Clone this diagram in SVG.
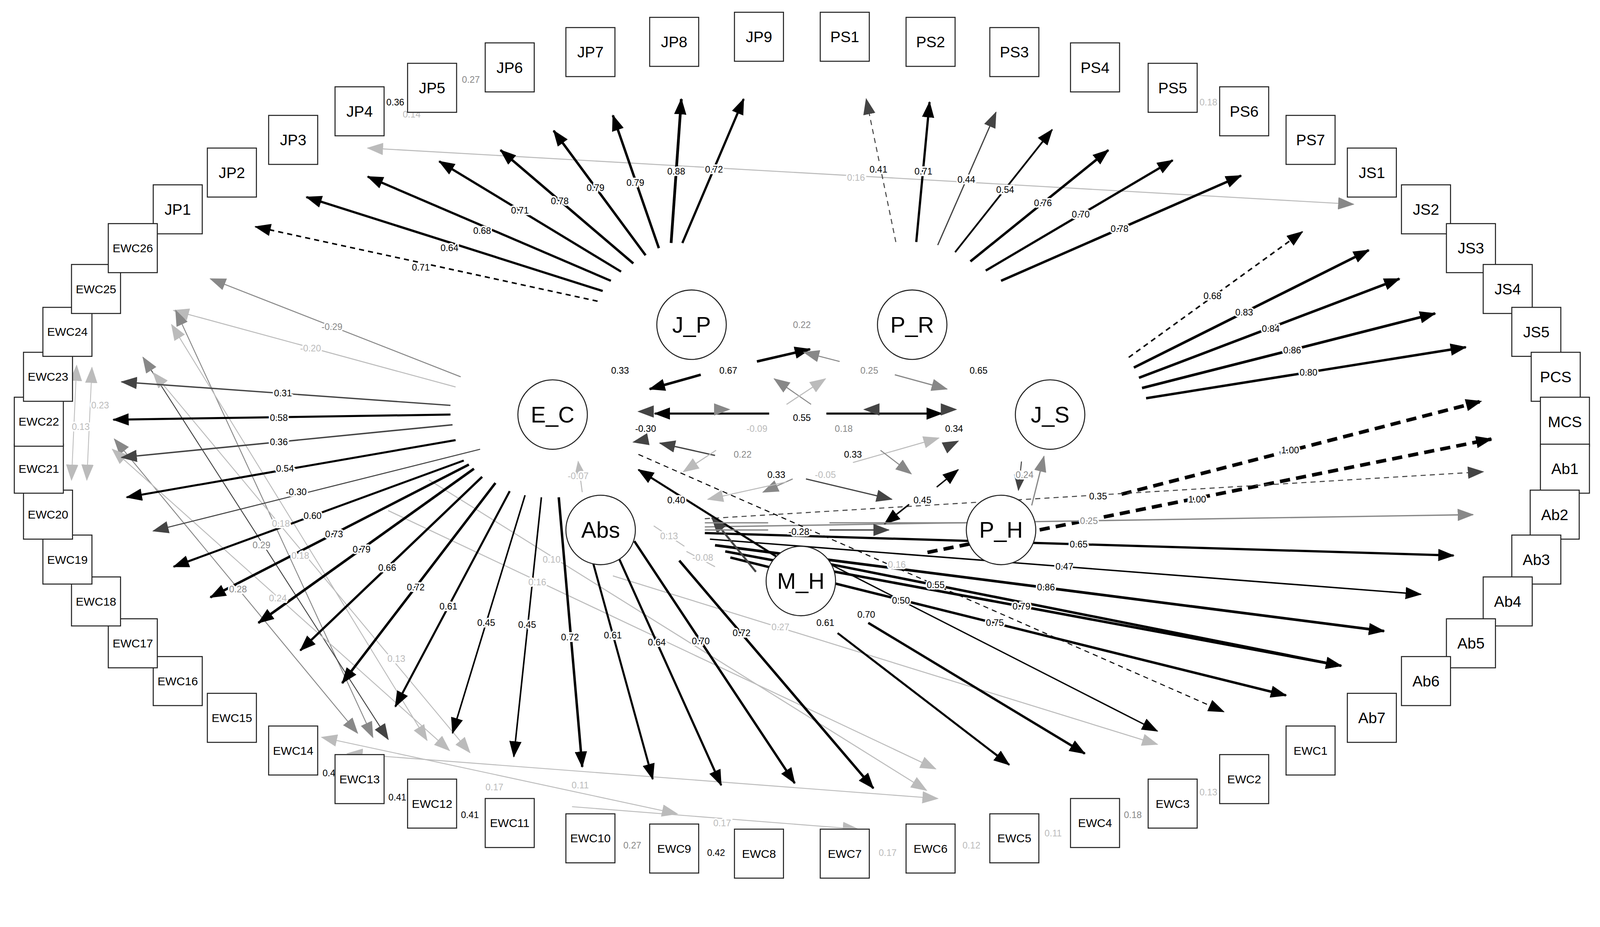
<svg xmlns="http://www.w3.org/2000/svg" width="4246" height="2374" viewBox="0 0 4246 2374">
<style>
.k{stroke:#000;fill:none}.d{stroke:#444;fill:none}.g{stroke:#888;fill:none}.l{stroke:#bbb;fill:none}
.ds{stroke-dasharray:5 4}.dt{stroke-dasharray:10 6}
.kb{marker-end:url(#mB)}.db{marker-end:url(#mD)}.gb{marker-end:url(#mG)}.lb{marker-end:url(#mL)}
.gs{marker-start:url(#mGs)}.ls{marker-start:url(#mLs)}
.t{font-family:'Liberation Sans',Arial,sans-serif;font-size:9px;text-anchor:middle;dominant-baseline:central;paint-order:stroke;stroke:#fff;stroke-width:3px;fill:#000}
.tg{fill:#888}.tl{fill:#bbb}
.box{fill:#fff;stroke:#222;stroke-width:1}
.bt{font-family:'Liberation Sans',Arial,sans-serif;font-size:15px;text-anchor:middle;dominant-baseline:central;fill:#000}
.bs{font-size:11.5px}
.lat{fill:#fff;stroke:#222;stroke-width:1}
.lt{font-family:'Liberation Sans',Arial,sans-serif;font-size:22px;text-anchor:middle;dominant-baseline:central;fill:#000}
</style>
<defs>
<marker id="mB" markerUnits="userSpaceOnUse" markerWidth="16" markerHeight="12" refX="15" refY="6" orient="auto"><path d="M0,0L16,6L0,12z" fill="#000"/></marker>
<marker id="mD" markerUnits="userSpaceOnUse" markerWidth="16" markerHeight="12" refX="15" refY="6" orient="auto"><path d="M0,0L16,6L0,12z" fill="#444"/></marker>
<marker id="mG" markerUnits="userSpaceOnUse" markerWidth="16" markerHeight="12" refX="15" refY="6" orient="auto"><path d="M0,0L16,6L0,12z" fill="#888"/></marker>
<marker id="mL" markerUnits="userSpaceOnUse" markerWidth="16" markerHeight="12" refX="15" refY="6" orient="auto"><path d="M0,0L16,6L0,12z" fill="#bbb"/></marker>
<marker id="mGs" markerUnits="userSpaceOnUse" markerWidth="16" markerHeight="12" refX="15" refY="6" orient="auto-start-reverse"><path d="M0,0L16,6L0,12z" fill="#888"/></marker>
<marker id="mLs" markerUnits="userSpaceOnUse" markerWidth="16" markerHeight="12" refX="15" refY="6" orient="auto-start-reverse"><path d="M0,0L16,6L0,12z" fill="#bbb"/></marker>
</defs>
<rect width="4246" height="2374" fill="#fff"/>
<g transform="scale(2.615)">
<g id="connectors">
<path class="l gb ls" d="M360,145L1325,200"/>
<path class="g gb" stroke-width="1" d="M451,369L206,273"/>
<path class="l lb" stroke-width="1" d="M446,379L170,304"/>
<path class="g gb gs" stroke-width="0.9" d="M172,304L365,722"/>
<path class="d db gs" stroke-width="0.9" d="M140,350L380,724"/>
<path class="l lb ls" stroke-width="0.9" d="M168,318L418,725"/>
<path class="g gb gs" stroke-width="0.9" d="M112,430L350,718"/>
<path class="l lb ls" stroke-width="0.9" d="M110,440L440,735"/>
<path class="l lb ls" stroke-width="0.9" d="M150,365L460,737"/>
<path class="l lb ls" stroke-width="0.8" d="M90,360L85,470"/>
<path class="l lb ls" stroke-width="0.8" d="M75,358L70,470"/>
<path class="l lb ls" stroke-width="0.9" d="M315,722L663,797"/>
<path class="l lb ls" stroke-width="0.9" d="M340,738L918,782"/>
<path class="l lb" stroke-width="0.9" d="M560,790L840,812"/>
<path class="l lb" stroke-width="1" d="M420,470L907,774"/>
<path class="l lb" stroke-width="1" d="M380,500L916,753"/>
<path class="l lb" stroke-width="1" d="M600,564L1133,729"/>
<path class="d db" stroke-width="1" d="M470,440L150,520"/>
<path class="k kb ds" stroke-width="1.5" d="M585,295L250,222"/>
<path class="k kb" stroke-width="2.2" d="M590,285L300,193"/>
<path class="k kb" stroke-width="2.2" d="M598,275L360,173"/>
<path class="k kb" stroke-width="2.2" d="M608,266L430,158"/>
<path class="k kb" stroke-width="2.4" d="M620,258L490,147"/>
<path class="k kb" stroke-width="2.4" d="M632,250L542,128"/>
<path class="k kb" stroke-width="2.4" d="M645,243L600,113"/>
<path class="k kb" stroke-width="2.7" d="M657,238L667,97"/>
<path class="k kb" stroke-width="2.2" d="M668,238L728,97"/>
<path class="d db ds" stroke-width="1" d="M877,237L848,97"/>
<path class="k kb" stroke-width="2.2" d="M897,237L910,100"/>
<path class="d db" stroke-width="1.2" d="M918,240L975,110"/>
<path class="k kb" stroke-width="1.7" d="M935,247L1030,127"/>
<path class="k kb" stroke-width="2.4" d="M950,256L1085,147"/>
<path class="k kb" stroke-width="2.2" d="M965,265L1148,157"/>
<path class="k kb" stroke-width="2.4" d="M980,275L1215,172"/>
<path class="k kb ds" stroke-width="1.5" d="M1105,350L1275,227"/>
<path class="k kb" stroke-width="2.5" d="M1110,360L1340,245"/>
<path class="k kb" stroke-width="2.5" d="M1115,370L1370,273"/>
<path class="k kb" stroke-width="2.6" d="M1118,380L1405,307"/>
<path class="k kb" stroke-width="2.4" d="M1122,390L1435,340"/>
<path class="k kb dt" stroke-width="3.5" d="M1098,484L1450,393"/>
<path class="k kb dt" stroke-width="3.5" d="M908,541L1460,430"/>
<path class="d db ds" stroke-width="1" d="M690,508L1452,462"/>
<path class="g gb" stroke-width="1.3" d="M690,516L1442,504"/>
<path class="k kb" stroke-width="2.2" d="M690,522L1423,544"/>
<path class="k kb" stroke-width="1.4" d="M695,528L1391,582"/>
<path class="k kb" stroke-width="2.6" d="M700,534L1355,618"/>
<path class="k kb" stroke-width="2.5" d="M710,540L1313,652"/>
<path class="k kb" stroke-width="2.4" d="M715,546L1259,681"/>
<path class="d db" stroke-width="1.3" d="M441,397L119,374"/>
<path class="k kb" stroke-width="2" d="M441,406L111,411"/>
<path class="d db" stroke-width="1.4" d="M443,416L119,448"/>
<path class="k kb" stroke-width="2" d="M446,431L124,487"/>
<path class="k kb" stroke-width="2" d="M454,451L170,555"/>
<path class="k kb" stroke-width="2.4" d="M459,455L206,585"/>
<path class="k kb" stroke-width="2.5" d="M464,459L253,610"/>
<path class="k kb" stroke-width="2.2" d="M472,467L294,637"/>
<path class="k kb" stroke-width="2.4" d="M485,473L335,669"/>
<path class="k kb" stroke-width="2" d="M499,481L387,692"/>
<path class="k kb" stroke-width="1.5" d="M514,485L443,718"/>
<path class="k kb" stroke-width="1.5" d="M530,487L503,741"/>
<path class="k kb" stroke-width="2.4" d="M547,487L570,751"/>
<path class="k kb" stroke-width="2" d="M580,549L639,763"/>
<path class="k kb" stroke-width="2.1" d="M606,547L706,769"/>
<path class="k kb" stroke-width="2.3" d="M621,530L778,767"/>
<path class="k kb" stroke-width="2.4" d="M665,549L855,772"/>
<path class="k kb" stroke-width="2" d="M820,620L988,749"/>
<path class="k kb" stroke-width="2.3" d="M850,610L1062,738"/>
<path class="k kb" stroke-width="1.3" d="M790,541L1133,716"/>
<path class="k kb" stroke-width="2.4" d="M790,548L1313,652"/>
<path class="k kb ds" stroke-width="1" d="M625,445L1198,697"/>
<path class="k kb" stroke-width="2.5" d="M741,354L793,342"/>
<path class="g gb" stroke-width="1" d="M822,354L787,345"/>
<path class="k kb" stroke-width="2.5" d="M686,367L636,381"/>
<path class="g gb" stroke-width="1.2" d="M876,367L927,381"/>
<path class="k kb" stroke-width="2" d="M753,405L641,405"/>
<path class="d db" stroke-width="0.1" d="M630,403L625,403"/>
<path class="g gb" stroke-width="0.1" d="M700,401L714,401"/>
<path class="k kb" stroke-width="2" d="M809,405L922,405"/>
<path class="d db" stroke-width="0.1" d="M860,401L846,401"/>
<path class="d db" stroke-width="0.1" d="M930,401L936,401"/>
<path class="g gb" stroke-width="1" d="M794,396L758,371"/>
<path class="l lb" stroke-width="1" d="M770,396L808,371"/>
<path class="d db" stroke-width="1.3" d="M700,446L646,434"/>
<path class="d db" stroke-width="0.1" d="M625,432L620,433"/>
<path class="l lb" stroke-width="1" d="M701,441L669,462"/>
<path class="l lb" stroke-width="1" d="M835,453L919,429"/>
<path class="d db" stroke-width="0.1" d="M934,434L938,432"/>
<path class="g gb" stroke-width="1" d="M862,441L892,464"/>
<path class="k kb" stroke-width="1.3" d="M917,477L938,460"/>
<path class="k kb" stroke-width="1.5" d="M890,494L866,513"/>
<path class="g gb" stroke-width="1" d="M776,469L747,482"/>
<path class="l lb" stroke-width="1" d="M770,472L693,489"/>
<path class="d db" stroke-width="1.2" d="M789,469L873,489"/>
<path class="l lb" stroke-width="1" d="M570,482L566,452"/>
<path class="k kb" stroke-width="2" d="M760,545L625,460"/>
<path class="d db" stroke-width="2" d="M740,560L697,507"/>
<path class="g" stroke-width="1.3" d="M690,512L752,512M812,512L945,512M690,519L752,519"/>
<path class="d db" stroke-width="1.3" d="M812,519L870,519"/>
<path class="g gb" stroke-width="1.2" d="M1010,495L1022,447"/>
<path class="d db" stroke-width="1" d="M1000,452L997,480"/>
<path class="l" stroke-width="1" d="M640,515L670,535M672,540L700,555"/>
</g>
<g id="edge-labels">
<text class="t" x="412" y="262">0.71</text><text class="t" x="440" y="243">0.64</text><text class="t" x="472" y="226">0.68</text>
<text class="t" x="509" y="206">0.71</text><text class="t" x="548" y="197">0.78</text><text class="t" x="583" y="184">0.79</text>
<text class="t" x="622" y="179">0.79</text><text class="t" x="662" y="168">0.88</text><text class="t" x="699" y="166">0.72</text>
<text class="t" x="860" y="166">0.41</text><text class="t" x="904" y="168">0.71</text><text class="t" x="946" y="176">0.44</text>
<text class="t" x="984" y="186">0.54</text><text class="t" x="1021" y="199">0.76</text><text class="t" x="1058" y="210">0.70</text><text class="t" x="1096" y="224">0.78</text>
<text class="t" x="1187" y="290">0.68</text><text class="t" x="1218" y="306">0.83</text><text class="t" x="1244" y="322">0.84</text>
<text class="t" x="1265" y="343">0.86</text><text class="t" x="1281" y="365">0.80</text>
<text class="t" x="1263" y="441">1.00</text><text class="t" x="1172" y="489">1.00</text>
<text class="t" x="1075" y="486">0.35</text><text class="t tg" x="1066" y="510">0.25</text><text class="t" x="1056" y="533">0.65</text>
<text class="t" x="1042" y="555">0.47</text><text class="t" x="1024" y="575">0.86</text><text class="t" x="1000" y="594">0.79</text><text class="t" x="974" y="610">0.75</text>
<text class="t" x="277" y="385">0.31</text><text class="t" x="273" y="409">0.58</text><text class="t" x="273" y="433">0.36</text>
<text class="t" x="279" y="459">0.54</text><text class="t" x="306" y="505">0.60</text><text class="t" x="327" y="523">0.73</text>
<text class="t" x="354" y="538">0.79</text><text class="t" x="379" y="556">0.66</text><text class="t" x="407" y="575">0.72</text>
<text class="t" x="439" y="594">0.61</text><text class="t" x="476" y="610">0.45</text><text class="t" x="516" y="612">0.45</text>
<text class="t" x="558" y="624">0.72</text><text class="t" x="600" y="622">0.61</text><text class="t" x="643" y="629">0.64</text>
<text class="t" x="686" y="628">0.70</text><text class="t" x="726" y="620">0.72</text>
<text class="t" x="808" y="610">0.61</text><text class="t" x="848" y="602">0.70</text><text class="t" x="882" y="588">0.50</text><text class="t" x="916" y="573">0.55</text>
<text class="t tl" x="878" y="553">0.16</text><text class="t tl" x="764" y="614">0.27</text>
<text class="t tg" x="325" y="320">-0.29</text><text class="t tl" x="304" y="341">-0.20</text><text class="t" x="290" y="482">-0.30</text>
<text class="t tl" x="275" y="513">0.18</text><text class="t tg" x="256" y="534">0.29</text><text class="t tl" x="294" y="544">0.18</text>
<text class="t tg" x="233" y="577">0.28</text><text class="t tl" x="272" y="586">0.24</text><text class="t tl" x="388" y="645">0.13</text>
<text class="t tl" x="540" y="548">0.10</text><text class="t tl" x="526" y="570">0.16</text>
<text class="t tl" x="98" y="397">0.23</text><text class="t tl" x="79" y="418">0.13</text>
<text class="t tl" x="838" y="174">0.16</text>
<text class="t tl" x="484" y="771">0.17</text><text class="t tl" x="568" y="769">0.11</text><text class="t tl" x="707" y="806">0.17</text>
<text class="t tg" x="785" y="318">0.22</text><text class="t" x="713" y="363">0.67</text><text class="t" x="607" y="363">0.33</text>
<text class="t tg" x="851" y="363">0.25</text><text class="t" x="958" y="363">0.65</text><text class="t" x="785" y="409">0.55</text>
<text class="t" x="632" y="420">-0.30</text><text class="t tl" x="741" y="420">-0.09</text><text class="t tg" x="826" y="420">0.18</text><text class="t" x="934" y="420">0.34</text>
<text class="t tg" x="727" y="445">0.22</text><text class="t" x="835" y="445">0.33</text>
<text class="t" x="760" y="465">0.33</text><text class="t tl" x="808" y="465">-0.05</text><text class="t tl" x="566" y="466">-0.07</text>
<text class="t" x="662" y="490">0.40</text><text class="t" x="903" y="490">0.45</text><text class="t tg" x="1003" y="465">0.24</text>
<text class="t" x="782" y="521">-0.28</text><text class="t tl" x="655" y="525">0.13</text><text class="t tl" x="688" y="546">-0.08</text>
<text class="t" x="322" y="757">0.4</text><text class="t" x="389" y="781">0.41</text><text class="t" x="460" y="798">0.41</text>
<text class="t tg" x="619" y="828">0.27</text><text class="t" x="701" y="835">0.42</text><text class="t tl" x="869" y="835">0.17</text>
<text class="t tl" x="951" y="828">0.12</text><text class="t tl" x="1031" y="816">0.11</text><text class="t tg" x="1109" y="798">0.18</text>
<text class="t tl" x="1183" y="776">0.13</text><text class="t tg" x="461" y="78">0.27</text><text class="t" x="387" y="100">0.36</text>
<text class="t tl" x="403" y="112">0.14</text><text class="t tl" x="1183" y="100">0.18</text>
</g>
<g id="JP1"><rect class="box" x="150" y="181" width="48" height="48"/><text class="bt" x="174" y="205">JP1</text></g>
<g id="JP2"><rect class="box" x="203" y="145" width="48" height="48"/><text class="bt" x="227" y="169">JP2</text></g>
<g id="JP3"><rect class="box" x="263" y="113" width="48" height="48"/><text class="bt" x="287" y="137">JP3</text></g>
<g id="JP4"><rect class="box" x="328" y="85" width="48" height="48"/><text class="bt" x="352" y="109">JP4</text></g>
<g id="JP5"><rect class="box" x="399" y="62" width="48" height="48"/><text class="bt" x="423" y="86">JP5</text></g>
<g id="JP6"><rect class="box" x="475" y="42" width="48" height="48"/><text class="bt" x="499" y="66">JP6</text></g>
<g id="JP7"><rect class="box" x="554" y="27" width="48" height="48"/><text class="bt" x="578" y="51">JP7</text></g>
<g id="JP8"><rect class="box" x="636" y="17" width="48" height="48"/><text class="bt" x="660" y="41">JP8</text></g>
<g id="JP9"><rect class="box" x="719" y="12" width="48" height="48"/><text class="bt" x="743" y="36">JP9</text></g>
<g id="PS1"><rect class="box" x="803" y="12" width="48" height="48"/><text class="bt" x="827" y="36">PS1</text></g>
<g id="PS2"><rect class="box" x="887" y="17" width="48" height="48"/><text class="bt" x="911" y="41">PS2</text></g>
<g id="PS3"><rect class="box" x="969" y="27" width="48" height="48"/><text class="bt" x="993" y="51">PS3</text></g>
<g id="PS4"><rect class="box" x="1048" y="42" width="48" height="48"/><text class="bt" x="1072" y="66">PS4</text></g>
<g id="PS5"><rect class="box" x="1124" y="62" width="48" height="48"/><text class="bt" x="1148" y="86">PS5</text></g>
<g id="PS6"><rect class="box" x="1194" y="85" width="48" height="48"/><text class="bt" x="1218" y="109">PS6</text></g>
<g id="PS7"><rect class="box" x="1259" y="113" width="48" height="48"/><text class="bt" x="1283" y="137">PS7</text></g>
<g id="JS1"><rect class="box" x="1319" y="145" width="48" height="48"/><text class="bt" x="1343" y="169">JS1</text></g>
<g id="JS2"><rect class="box" x="1372" y="181" width="48" height="48"/><text class="bt" x="1396" y="205">JS2</text></g>
<g id="JS3"><rect class="box" x="1416" y="219" width="48" height="48"/><text class="bt" x="1440" y="243">JS3</text></g>
<g id="JS4"><rect class="box" x="1452" y="259" width="48" height="48"/><text class="bt" x="1476" y="283">JS4</text></g>
<g id="JS5"><rect class="box" x="1480" y="301" width="48" height="48"/><text class="bt" x="1504" y="325">JS5</text></g>
<g id="PCS"><rect class="box" x="1499" y="345" width="48" height="48"/><text class="bt" x="1523" y="369">PCS</text></g>
<g id="MCS"><rect class="box" x="1508" y="389" width="48" height="48"/><text class="bt" x="1532" y="413">MCS</text></g>
<g id="Ab1"><rect class="box" x="1508" y="435" width="48" height="48"/><text class="bt" x="1532" y="459">Ab1</text></g>
<g id="Ab2"><rect class="box" x="1498" y="480" width="48" height="48"/><text class="bt" x="1522" y="504">Ab2</text></g>
<g id="Ab3"><rect class="box" x="1480" y="524" width="48" height="48"/><text class="bt" x="1504" y="548">Ab3</text></g>
<g id="Ab4"><rect class="box" x="1452" y="565" width="48" height="48"/><text class="bt" x="1476" y="589">Ab4</text></g>
<g id="Ab5"><rect class="box" x="1416" y="606" width="48" height="48"/><text class="bt" x="1440" y="630">Ab5</text></g>
<g id="Ab6"><rect class="box" x="1372" y="643" width="48" height="48"/><text class="bt" x="1396" y="667">Ab6</text></g>
<g id="Ab7"><rect class="box" x="1319" y="679" width="48" height="48"/><text class="bt" x="1343" y="703">Ab7</text></g>
<g id="EWC1"><rect class="box" x="1259" y="711" width="48" height="48"/><text class="bt bs" x="1283" y="735">EWC1</text></g>
<g id="EWC2"><rect class="box" x="1194" y="739" width="48" height="48"/><text class="bt bs" x="1218" y="763">EWC2</text></g>
<g id="EWC3"><rect class="box" x="1124" y="763" width="48" height="48"/><text class="bt bs" x="1148" y="787">EWC3</text></g>
<g id="EWC4"><rect class="box" x="1048" y="782" width="48" height="48"/><text class="bt bs" x="1072" y="806">EWC4</text></g>
<g id="EWC5"><rect class="box" x="969" y="797" width="48" height="48"/><text class="bt bs" x="993" y="821">EWC5</text></g>
<g id="EWC6"><rect class="box" x="887" y="807" width="48" height="48"/><text class="bt bs" x="911" y="831">EWC6</text></g>
<g id="EWC7"><rect class="box" x="803" y="812" width="48" height="48"/><text class="bt bs" x="827" y="836">EWC7</text></g>
<g id="EWC8"><rect class="box" x="719" y="812" width="48" height="48"/><text class="bt bs" x="743" y="836">EWC8</text></g>
<g id="EWC9"><rect class="box" x="636" y="807" width="48" height="48"/><text class="bt bs" x="660" y="831">EWC9</text></g>
<g id="EWC10"><rect class="box" x="554" y="797" width="48" height="48"/><text class="bt bs" x="578" y="821">EWC10</text></g>
<g id="EWC11"><rect class="box" x="475" y="782" width="48" height="48"/><text class="bt bs" x="499" y="806">EWC11</text></g>
<g id="EWC12"><rect class="box" x="399" y="763" width="48" height="48"/><text class="bt bs" x="423" y="787">EWC12</text></g>
<g id="EWC13"><rect class="box" x="328" y="739" width="48" height="48"/><text class="bt bs" x="352" y="763">EWC13</text></g>
<g id="EWC14"><rect class="box" x="263" y="711" width="48" height="48"/><text class="bt bs" x="287" y="735">EWC14</text></g>
<g id="EWC15"><rect class="box" x="203" y="679" width="48" height="48"/><text class="bt bs" x="227" y="703">EWC15</text></g>
<g id="EWC16"><rect class="box" x="150" y="643" width="48" height="48"/><text class="bt bs" x="174" y="667">EWC16</text></g>
<g id="EWC17"><rect class="box" x="106" y="606" width="48" height="48"/><text class="bt bs" x="130" y="630">EWC17</text></g>
<g id="EWC18"><rect class="box" x="70" y="565" width="48" height="48"/><text class="bt bs" x="94" y="589">EWC18</text></g>
<g id="EWC19"><rect class="box" x="42" y="524" width="48" height="48"/><text class="bt bs" x="66" y="548">EWC19</text></g>
<g id="EWC20"><rect class="box" x="23" y="480" width="48" height="48"/><text class="bt bs" x="47" y="504">EWC20</text></g>
<g id="EWC21"><rect class="box" x="14" y="435" width="48" height="48"/><text class="bt bs" x="38" y="459">EWC21</text></g>
<g id="EWC22"><rect class="box" x="14" y="389" width="48" height="48"/><text class="bt bs" x="38" y="413">EWC22</text></g>
<g id="EWC23"><rect class="box" x="23" y="345" width="48" height="48"/><text class="bt bs" x="47" y="369">EWC23</text></g>
<g id="EWC24"><rect class="box" x="42" y="301" width="48" height="48"/><text class="bt bs" x="66" y="325">EWC24</text></g>
<g id="EWC25"><rect class="box" x="70" y="259" width="48" height="48"/><text class="bt bs" x="94" y="283">EWC25</text></g>
<g id="EWC26"><rect class="box" x="106" y="219" width="48" height="48"/><text class="bt bs" x="130" y="243">EWC26</text></g>
<g id="J_P"><circle class="lat" cx="677" cy="318" r="34"/><text class="lt" x="677" y="318">J_P</text></g>
<g id="P_R"><circle class="lat" cx="893" cy="318" r="34"/><text class="lt" x="893" y="318">P_R</text></g>
<g id="E_C"><circle class="lat" cx="541" cy="406" r="34"/><text class="lt" x="541" y="406">E_C</text></g>
<g id="J_S"><circle class="lat" cx="1028" cy="406" r="34"/><text class="lt" x="1028" y="406">J_S</text></g>
<g id="Abs"><circle class="lat" cx="588" cy="519" r="34"/><text class="lt" x="588" y="519">Abs</text></g>
<g id="P_H"><circle class="lat" cx="980" cy="519" r="34"/><text class="lt" x="980" y="519">P_H</text></g>
<g id="M_H"><circle class="lat" cx="784" cy="569" r="34"/><text class="lt" x="784" y="569">M_H</text></g>
</g>
</svg>
